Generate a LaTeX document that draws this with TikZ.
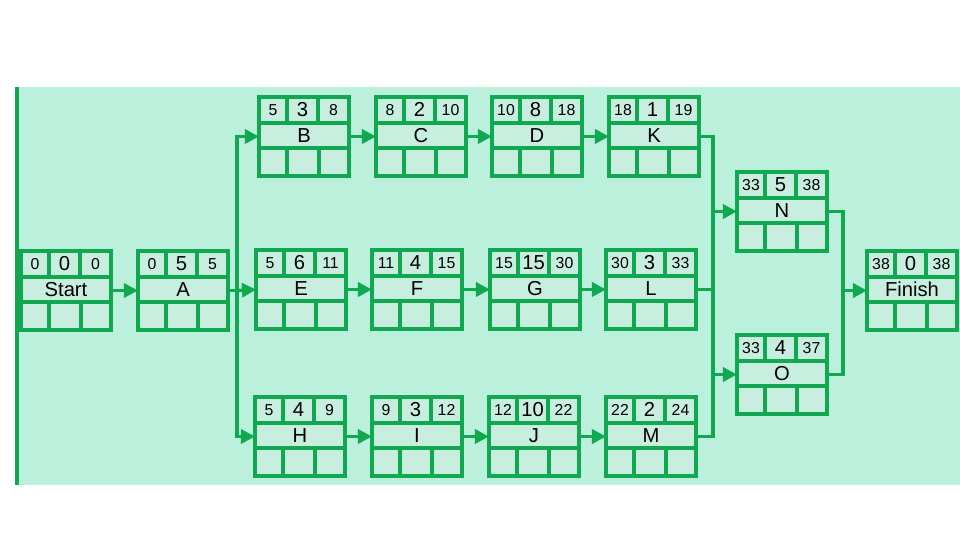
\documentclass[tikz,border=0pt]{standalone}
\usepackage{fontspec}
\setmainfont{Liberation Sans}
\usetikzlibrary{arrows.meta}

\definecolor{netgreen}{RGB}{16,168,80}
\definecolor{mint}{RGB}{186,240,220}
\definecolor{cellmint}{RGB}{200,238,224}

\tikzset{
  act/.style={draw=netgreen, fill=cellmint, line width=2.1pt, inner sep=0pt, outer sep=0pt,
    minimum width=1.8cm, minimum height=1.58cm},
  cell/.style={draw=netgreen, line width=1.9pt},
  outer num/.style={font=\fontsize{9}{10}\selectfont, inner sep=0pt},
  mid num/.style={font=\fontsize{11.5}{12}\selectfont, inner sep=0pt},
  actname/.style={font=\fontsize{11.5}{12}\selectfont, inner sep=0pt},
  line/.style={draw=netgreen, line width=1.9pt},
  arr/.style={line, -{Triangle[length=8pt,width=8pt]}}
}

% activity box: name, x, y (top left, px), ES, duration, EF, label
\newcommand{\actbox}[7]{%
  \begin{scope}[shift={(#2,#3)}]
    \node[act] (#1) at (45,39.5) {};
    \draw[cell] (0,26) -- (90,26) (0,51) -- (90,51)
      (28,0) -- (28,26) (59,0) -- (59,26)
      (28,51) -- (28,79) (60,51) -- (60,79);
    \node[outer num] (#1-es) at (14,13) {#4};
    \node[mid num] (#1-du) at (43.5,12.5) {#5};
    \node[outer num] (#1-ef) at (74.5,13) {#6};
    \node[actname] (#1-lb) at (45,38.5) {#7};
  \end{scope}}

\begin{document}
\begin{tikzpicture}[x=0.02cm, y=-0.02cm]

% ---------- canvas: 960 x 540 px ----------
\useasboundingbox (0,0) rectangle (960,540);
\fill[mint] (17,87) rectangle (960,485);
\draw[line] (17,87) -- (17,485);

% ---------- activity boxes ----------
\actbox{Start}{21}{251}{0}{0}{0}{Start}
\actbox{A}{138}{251}{0}{5}{5}{A}

\actbox{B}{259}{97}{5}{3}{8}{B}
\actbox{C}{376}{97}{8}{2}{10}{C}
\actbox{D}{492}{97}{10}{8}{18}{D}
\actbox{K}{609}{97}{18}{1}{19}{K}

\actbox{E}{256}{250}{5}{6}{11}{E}
\actbox{F}{372}{250}{11}{4}{15}{F}
\actbox{G}{490}{250}{15}{15}{30}{G}
\actbox{L}{606}{250}{30}{3}{33}{L}

\actbox{H}{255}{397}{5}{4}{9}{H}
\actbox{I}{372}{397}{9}{3}{12}{I}
\actbox{J}{489}{397}{12}{10}{22}{J}
\actbox{M}{606}{397}{22}{2}{24}{M}

\actbox{N}{737}{172}{33}{5}{38}{N}
\actbox{O}{737}{335}{33}{4}{37}{O}
\actbox{Finish}{867}{251}{38}{0}{38}{Finish}

% ---------- connectors ----------
\draw[arr] (Start) -- (A);

\coordinate (splitA) at (237,290.5);
\draw[line] (A.east) -- (splitA);
\draw[arr] (splitA) |- (B.west);
\draw[arr] (splitA) -- (E.west);
\draw[arr] (splitA) |- (H.west);

\draw[arr] (B) -- (C);
\draw[arr] (C) -- (D);
\draw[arr] (D) -- (K);

\draw[arr] (E) -- (F);
\draw[arr] (F) -- (G);
\draw[arr] (G) -- (L);

\draw[arr] (H) -- (I);
\draw[arr] (I) -- (J);
\draw[arr] (J) -- (M);

\coordinate (joinKLM) at (713,289.5);
\draw[line] (K.east) -| (joinKLM) -- (L.east);
\draw[line] (joinKLM) |- (M.east);
\draw[arr] (joinKLM |- N.west) -- (N.west);
\draw[arr] (joinKLM |- O.west) -- (O.west);

\coordinate (joinNO) at (843,290.5);
\draw[line] (N.east) -| (joinNO) |- (O.east);
\draw[arr] (joinNO) -- (Finish.west);

\end{tikzpicture}
\end{document}
